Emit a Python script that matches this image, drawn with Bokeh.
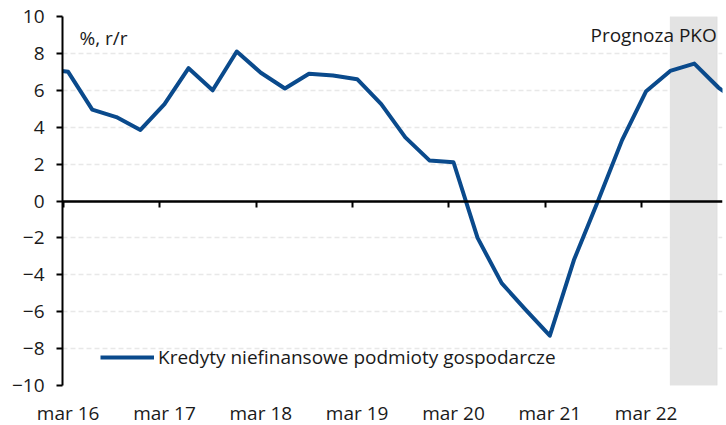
from bokeh.plotting import figure
from bokeh.models import (ColumnDataSource, FixedTicker, LinearAxis, Range1d,
                          BoxAnnotation, Label, Legend, LegendItem)
from bokeh.embed import file_html
from bokeh.resources import INLINE

# ---- data (quarterly, y/y %) ----
quarters = ["gru 15",
            "mar 16", "cze 16", "wrz 16", "gru 16",
            "mar 17", "cze 17", "wrz 17", "gru 17",
            "mar 18", "cze 18", "wrz 18", "gru 18",
            "mar 19", "cze 19", "wrz 19", "gru 19",
            "mar 20", "cze 20", "wrz 20", "gru 20",
            "mar 21", "cze 21", "wrz 21", "gru 21",
            "mar 22", "cze 22", "wrz 22", "gru 22",
            "mar 23"]
credit = [7.2,
          7.0, 4.95, 4.55, 3.85,
          5.25, 7.2, 6.0, 8.1,
          6.95, 6.1, 6.9, 6.8,
          6.6, 5.25, 3.45, 2.2,
          2.1, -2.0, -4.45, -5.9,
          -7.3, -3.2, 0.0, 3.3,
          5.95, 7.05, 7.45, 6.15,
          5.2]
positions = list(range(-1, len(credit) - 1))   # quarter index, 0 = mar 16

year_labels = ["mar 16", "mar 17", "mar 18", "mar 19", "mar 20", "mar 21", "mar 22"]
label_pos = [quarters.index(s) - 1 for s in year_labels]
tick_pos = [p - 0.2 for p in label_pos]
y_ticks = [-10, -8, -6, -4, -2, 0, 2, 4, 6, 8, 10]
forecast_start = 25
forecast_end = 26.95

FONT = "Open Sans"
TXT = "#1a1a1a"
BLUE = "#0a4a8c"
FS = "19px"

src = ColumnDataSource(dict(x=positions, y=credit, q=quarters))

p = figure(frame_width=660, frame_height=369,
           min_border_left=62, min_border_right=4, min_border_top=16, min_border_bottom=40,
           x_range=Range1d(-0.235, 27.17), y_range=Range1d(-10, 10),
           output_backend="svg", toolbar_location=None, x_axis_location="below")
p.outline_line_color = None
p.background_fill_color = "white"
p.border_fill_color = "white"

# forecast band
p.add_layout(BoxAnnotation(left=forecast_start, right=forecast_end,
                           fill_color="#e3e3e3", fill_alpha=1.0, level="underlay"))

# grid
p.xgrid.visible = False
p.ygrid.ticker = FixedTicker(ticks=y_ticks)
p.ygrid.grid_line_color = "#e8e8e8"
p.ygrid.grid_line_dash = "5 3"
p.ygrid.grid_line_width = 1.5

# y axis
p.yaxis.ticker = FixedTicker(ticks=y_ticks)
p.yaxis.axis_line_color = "black"
p.yaxis.axis_line_width = 2
p.yaxis.major_tick_line_color = "black"
p.yaxis.major_tick_line_width = 2
p.yaxis.major_tick_out = 6
p.yaxis.major_tick_in = 0
p.yaxis.minor_tick_line_color = None
p.yaxis.major_label_standoff = 12
p.yaxis.major_label_text_font = FONT
p.yaxis.major_label_text_font_size = FS
p.yaxis.major_label_text_color = TXT

# bottom label axis
p.xaxis.ticker = FixedTicker(ticks=label_pos)
p.xaxis.major_label_overrides = {pp: s for pp, s in zip(label_pos, year_labels)}
p.xaxis.axis_line_color = None
p.xaxis.major_tick_line_color = None
p.xaxis.minor_tick_line_color = None
p.xaxis.major_tick_out = 0
p.xaxis.major_tick_in = 0
p.xaxis.major_label_standoff = 14
p.xaxis.major_label_text_font = FONT
p.xaxis.major_label_text_font_size = FS
p.xaxis.major_label_text_color = TXT

# zero axis with ticks
zero_axis = LinearAxis(fixed_location=0, ticker=FixedTicker(ticks=tick_pos))
zero_axis.major_label_overrides = {pp: "" for pp in tick_pos}
zero_axis.major_label_text_font_size = "0px"
zero_axis.major_label_standoff = 0
zero_axis.axis_line_color = "black"
zero_axis.axis_line_width = 2.5
zero_axis.major_tick_line_color = "black"
zero_axis.major_tick_line_width = 2
zero_axis.major_tick_out = 6
zero_axis.major_tick_in = 0
zero_axis.minor_tick_line_color = None
p.add_layout(zero_axis, "below")

# series
r = p.line("x", "y", source=src, line_color=BLUE, line_width=4, line_join="round")

legend = Legend(items=[LegendItem(label="Kredyty niefinansowe podmioty gospodarcze", renderers=[r])],
                location=(38, 15), orientation="vertical",
                glyph_width=54, glyph_height=20, label_standoff=4,
                padding=0, margin=0, spacing=0,
                border_line_color=None, background_fill_alpha=0,
                label_text_font=FONT, label_text_font_size=FS, label_text_color=TXT)
p.add_layout(legend, "center")

p.add_layout(Label(x=0.47, y=8.85, text="%, r/r", text_font=FONT, text_font_size=FS,
                   text_color=TXT, text_baseline="middle", text_align="left"))
p.add_layout(Label(x=26.93, y=9.0, text="Prognoza PKO", text_font=FONT, text_font_size=FS,
                   text_color=TXT, text_baseline="middle", text_align="right"))

open("out.html", "w").write(file_html(p, INLINE))
